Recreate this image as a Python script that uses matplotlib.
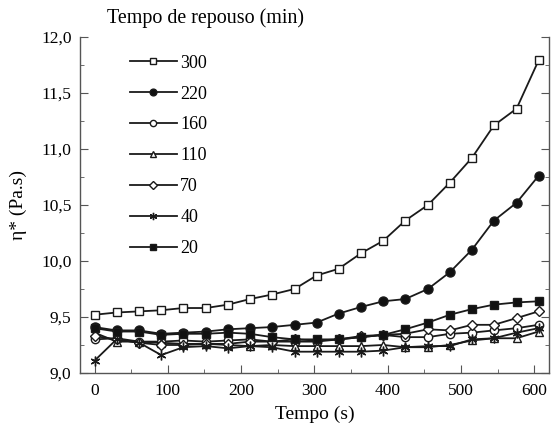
import matplotlib
matplotlib.use("Agg")
import matplotlib.pyplot as plt
from matplotlib.ticker import MultipleLocator

plt.rcParams['font.family'] = ['Liberation Serif', 'DejaVu Serif']

# tempo (s)
X = [0, 30, 61, 91, 121, 152, 182, 212, 242, 273, 303, 333, 364, 394, 424, 455, 485, 515, 545, 576, 606]

# eta* (Pa.s) por tempo de repouso (min)
S300 = [9.52, 9.54, 9.55, 9.56, 9.58, 9.58, 9.61, 9.66, 9.70, 9.75, 9.87, 9.93, 10.07, 10.18, 10.36, 10.50, 10.70, 10.92, 11.21, 11.36, 11.79]
S220 = [9.41, 9.38, 9.38, 9.35, 9.36, 9.37, 9.39, 9.40, 9.41, 9.43, 9.45, 9.53, 9.59, 9.64, 9.66, 9.75, 9.90, 10.10, 10.36, 10.52, 10.76]
S160 = [9.30, 9.31, 9.28, 9.28, 9.29, 9.28, 9.29, 9.30, 9.28, 9.28, 9.28, 9.30, 9.32, 9.34, 9.32, 9.32, 9.35, 9.36, 9.38, 9.40, 9.43]
S110 = [9.36, 9.28, 9.28, 9.27, 9.26, 9.26, 9.25, 9.24, 9.25, 9.24, 9.24, 9.24, 9.24, 9.25, 9.23, 9.23, 9.25, 9.29, 9.31, 9.31, 9.37]
S70 = [9.33, 9.30, 9.27, 9.25, 9.25, 9.26, 9.26, 9.28, 9.28, 9.30, 9.29, 9.30, 9.33, 9.34, 9.35, 9.39, 9.38, 9.43, 9.43, 9.49, 9.55]
S40 = [9.11, 9.30, 9.27, 9.16, 9.23, 9.24, 9.22, 9.24, 9.23, 9.19, 9.19, 9.19, 9.19, 9.20, 9.23, 9.24, 9.24, 9.30, 9.31, 9.36, 9.40]
S20 = [9.40, 9.37, 9.37, 9.34, 9.35, 9.35, 9.36, 9.35, 9.32, 9.30, 9.30, 9.30, 9.32, 9.34, 9.39, 9.45, 9.52, 9.57, 9.61, 9.63, 9.64]

LABELS = ["300", "220", "160", "110", "70", "40", "20"]
SERIES = [S300, S220, S160, S110, S70, S40, S20]
MARKERS = ['s', 'o', 'o', '^', 'D', (6, 2, 0), 's']
FACES = ['white', '#111111', 'white', 'white', 'white', '#111111', '#111111']
SIZES = [6, 6.5, 6, 6, 5, 7, 6]

fig = plt.figure(figsize=(5.51, 4.25), dpi=100)
ax = fig.add_axes([0.145, 0.1224, 0.851, 0.7906])

for y, lab, m, fc, ms in zip(SERIES, LABELS, MARKERS, FACES, SIZES):
    ax.plot(X, y, color='#1a1a1a', lw=1.3, marker=m, ms=ms, mfc=fc,
            mec='#1a1a1a', mew=1.0, label=lab)

ax.set_xlim(-20, 620)
ax.set_ylim(9.0, 12.0)
ax.xaxis.set_major_locator(MultipleLocator(100))
ax.xaxis.set_minor_locator(MultipleLocator(50))
ax.yaxis.set_major_locator(MultipleLocator(0.5))
ax.yaxis.set_minor_locator(MultipleLocator(0.25))
ax.yaxis.set_major_formatter(lambda v, p: f"{v:.1f}".replace('.', ','))

ax.spines['top'].set_visible(False)
for s in ['left', 'bottom', 'right']:
    ax.spines[s].set_color('#555555')
    ax.spines[s].set_linewidth(1.0)
ax.tick_params(which='both', direction='in', color='#555555', labelsize=12.5,
               right=True, top=False)
ax.tick_params(which='major', length=6)
ax.tick_params(which='minor', length=3)
ax.tick_params(axis='y', pad=6)
ax.tick_params(axis='x', pad=7)

ax.set_xlabel("Tempo (s)", fontsize=14, labelpad=5)
ax.set_ylabel("η* (Pa.s)", fontsize=14, labelpad=10)

leg = ax.legend(loc='upper left', bbox_to_anchor=(0.079, 0.985), frameon=False,
                fontsize=13, handlelength=2.6, handletextpad=0.2,
                labelspacing=0.77, markerscale=0.75, borderpad=0.2)
fig.text(0.194, 0.957, "Tempo de repouso (min)", fontsize=14.4, ha='left', va='center')

fig.savefig("out.png", dpi=100)
